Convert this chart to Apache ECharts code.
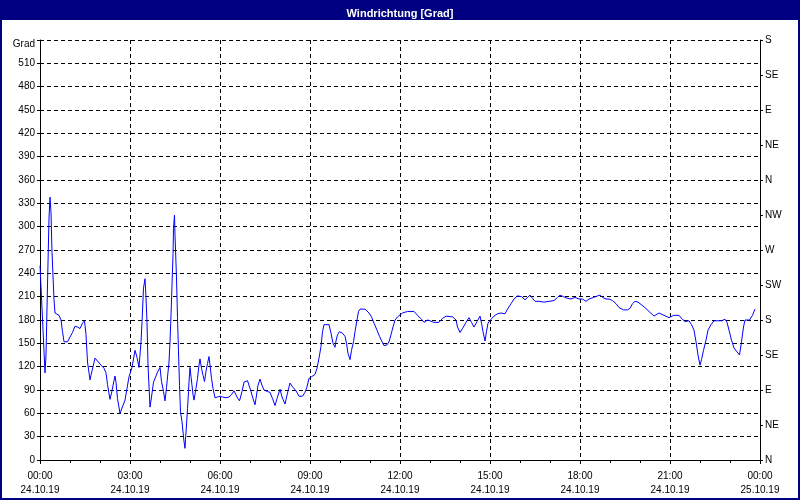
<!DOCTYPE html>
<html><head><meta charset="utf-8">
<script src="https://cdn.jsdelivr.net/npm/echarts@6/dist/echarts.min.js"></script>
<style>html,body{margin:0;padding:0;background:#fff}#c{width:800px;height:500px}</style>
</head><body><div id="c"></div><script>
// minutes since 24.10.19 00:00
const minutes = [0,10,12,15,18,20,22,24,28,30,38,42,45,48,55,58,65,70,75,80,85,89,92,95,100,102,110,122,128,132,135,140,143,147,150,152,155,160,170,178,184,190,194,198,202,204,207,210,212,214,216,220,223,227,232,235,240,243,247,250,253,256,258,260,262,264,266,267,269,270,273,275,277,279,281,284,286,288,290,291,293,295,297,299,300,302,304,306,308,312,315,318,320,323,326,329,332,335,338,340,343,346,350,355,360,365,372,378,383,388,394,399,404,408,415,418,422,426,430,432,436,440,444,448,455,460,465,470,474,480,484,490,495,500,505,512,518,525,530,534,538,543,550,554,558,562,565,568,578,582,586,590,592,595,599,605,610,613,616,620,623,627,630,634,637,640,650,658,663,668,674,679,684,688,694,698,702,706,710,715,719,725,735,748,755,763,768,775,780,787,798,805,812,825,832,835,840,845,852,858,863,868,874,880,883,886,890,893,896,902,908,915,922,930,935,942,948,955,957,963,970,975,980,985,990,998,1008,1018,1028,1035,1040,1047,1054,1062,1070,1078,1085,1092,1098,1107,1115,1120,1125,1132,1138,1145,1152,1158,1167,1175,1180,1185,1190,1196,1200,1208,1218,1228,1238,1248,1258,1267,1278,1283,1290,1298,1303,1308,1312,1316,1320,1323,1327,1332,1336,1342,1348,1354,1358,1363,1370,1374,1378,1383,1388,1394,1399,1403,1407,1410,1419,1425,1430];
// wind direction in degrees
const direction = [250,112,135,225,311,338,318,267,206,189,186,180,165,152,152,154,164,172,171,169,176,179,161,126,103,109,131,122,118,112,97,78,86,99,108,100,79,60,77,107,119,141,132,119,152,177,221,233,209,177,122,68,81,100,108,113,119,101,88,76,93,113,126,152,186,225,264,298,315,289,234,183,139,96,62,49,36,24,15,26,45,66,88,111,119,107,96,84,77,92,105,122,130,118,109,101,114,124,133,122,105,92,80,81,82,81,80,81,84,89,81,76,88,100,102,101,88,79,71,79,96,104,96,90,88,87,79,70,79,91,81,72,86,99,94,89,82,82,87,94,105,107,110,118,131,146,165,174,174,163,150,145,153,161,165,163,159,150,137,129,141,152,165,180,191,194,194,189,184,176,167,159,152,147,148,152,161,171,180,184,186,189,191,191,186,181,177,180,179,177,177,182,185,184,180,171,164,169,177,183,177,171,178,185,176,165,153,165,176,181,185,188,189,188,194,201,207,211,212,210,206,209,212,208,204,204,203,204,205,209,212,210,208,207,209,207,207,204,207,209,211,212,209,207,207,205,201,196,193,193,195,201,204,203,202,197,191,185,189,186,183,186,186,182,178,179,174,167,152,135,122,129,141,154,167,174,179,179,177,179,181,177,167,154,144,139,135,152,171,180,180,186,194];

const timeLabels = ['00:00','03:00','06:00','09:00','12:00','15:00','18:00','21:00','00:00'];
const dateLabels = ['24.10.19','24.10.19','24.10.19','24.10.19','24.10.19','24.10.19','24.10.19','24.10.19','25.10.19'];
const compassLabels = ['N','NE','E','SE','S','SW','W','NW','N','NE','E','SE','S'];
const leftUnit = 'Grad';
const titleText = 'Windrichtung [Grad]';

const FONT = 'Liberation Sans';
const chart = echarts.init(document.getElementById('c'), null, {renderer: 'canvas'});
chart.setOption({
  animation: false,
  backgroundColor: '#ffffff',
  title: {
    text: titleText, left: 'center', top: 3,
    textStyle: {color: '#ffffff', fontSize: 11, fontWeight: 'bold', fontFamily: FONT}
  },
  graphic: [
    {type: 'rect', z: -1, shape: {x: 0, y: 0, width: 800, height: 20}, style: {fill: '#000080'}},
    {type: 'rect', z: 100, shape: {x: 1, y: 1, width: 798, height: 498}, style: {fill: null, stroke: '#000080', lineWidth: 2}}
  ],
  grid: {left: 40, right: 40, top: 40, bottom: 40, containLabel: false},
  xAxis: {
    type: 'value', min: 0, max: 1440, interval: 180,
    axisLine: {show: true, lineStyle: {color: '#000', width: 1}},
    axisTick: {show: true, length: 4, lineStyle: {color: '#000'}},
    minorTick: {show: true, splitNumber: 3, length: 3, lineStyle: {color: '#000'}},
    splitLine: {show: true, lineStyle: {color: '#000', type: [4, 3], width: 1}},
    axisLabel: {
      color: '#000', fontSize: 10, fontFamily: FONT, margin: 9, lineHeight: 14,
      formatter: v => timeLabels[Math.round(v / 180)] + '\n' + dateLabels[Math.round(v / 180)]
    }
  },
  yAxis: [
    {
      type: 'value', min: 0, max: 540, interval: 30, position: 'left',
      axisLine: {show: true, lineStyle: {color: '#000', width: 1}},
      axisTick: {show: true, length: 3, lineStyle: {color: '#000'}},
      splitLine: {show: true, lineStyle: {color: '#000', type: [4, 3], width: 1}},
      axisLabel: {
        color: '#000', fontSize: 10, fontFamily: FONT, margin: 5,
        formatter: v => v === 540 ? '{u|' + leftUnit + '}' : String(v),
        rich: {u: {fontSize: 10, fontFamily: FONT, color: '#000', padding: [8, 0, 0, 0]}}
      }
    },
    {
      type: 'value', min: 0, max: 540, interval: 45, position: 'right',
      axisLine: {show: true, lineStyle: {color: '#000', width: 1}},
      axisTick: {show: true, length: 3, lineStyle: {color: '#000'}},
      splitLine: {show: false},
      axisLabel: {
        color: '#000', fontSize: 10, fontFamily: FONT, margin: 5,
        formatter: v => compassLabels[Math.round(v / 45)]
      }
    }
  ],
  series: [{
    type: 'line', yAxisIndex: 0,
    data: minutes.map((m, i) => [m, direction[i]]),
    showSymbol: false, symbol: 'none', smooth: false,
    lineStyle: {color: '#0000ff', width: 1}
  }]
});
</script></body></html>
